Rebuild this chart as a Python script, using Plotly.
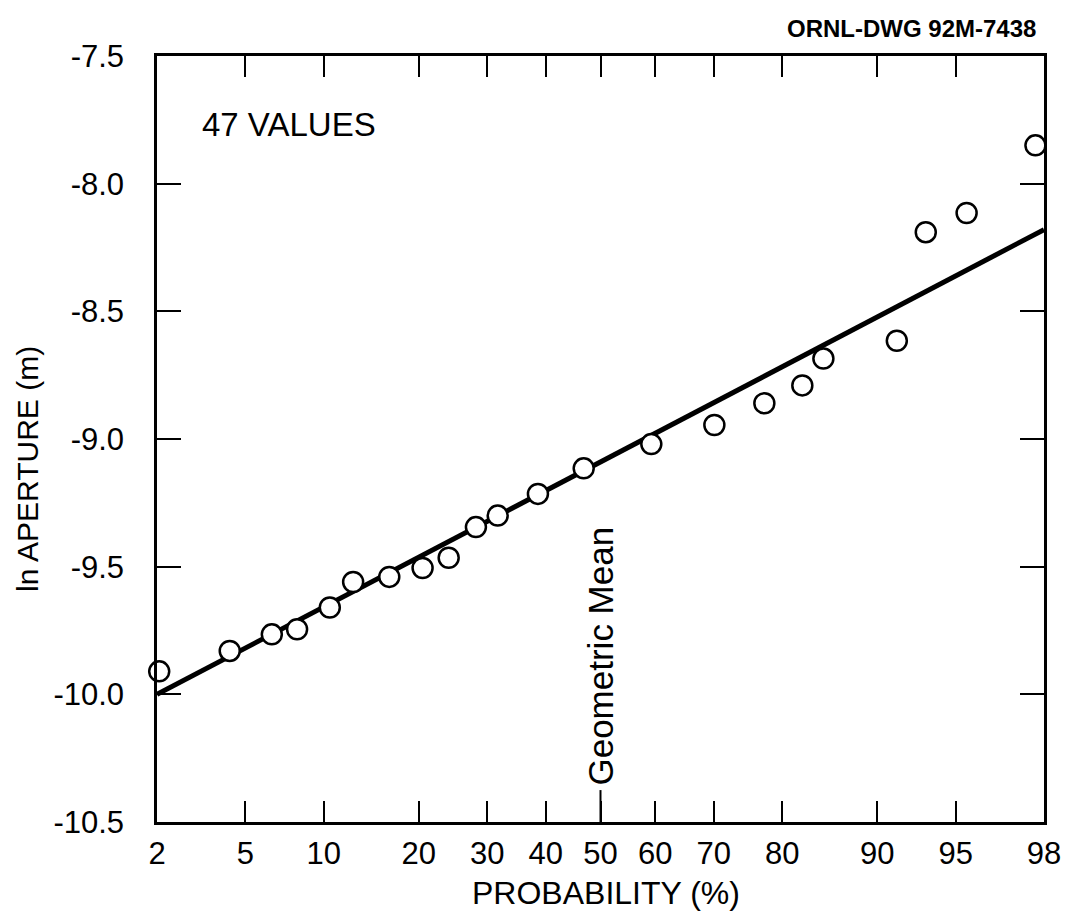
from statistics import NormalDist
import plotly.graph_objects as go

# ---------------- data ----------------
prob_pct = [2.05, 4.3, 6.4, 8.0, 10.5, 12.6, 16.4, 20.5, 24.1, 28.2, 31.7,
            38.6, 46.9, 59.3, 70.1, 77.6, 82.5, 84.9, 91.5, 93.4, 95.5, 97.8]
ln_aperture = [-9.91, -9.83, -9.765, -9.745, -9.66, -9.56, -9.54, -9.505, -9.465,
               -9.345, -9.30, -9.215, -9.115, -9.02, -8.945, -8.86, -8.79, -8.685,
               -8.615, -8.19, -8.115, -7.85]

fit_prob = [2, 98]
fit_val = [-10.0, -8.18]

x_tick_pct = [2, 5, 10, 20, 30, 40, 50, 60, 70, 80, 90, 95, 98]
x_tick_text = ["2", "5", "10", "20", "30", "40", "50", "60", "70", "80", "90", "95", "98"]
y_tick_vals = [-10.5, -10.0, -9.5, -9.0, -8.5, -8.0, -7.5]
y_tick_text = ["-10.5", "-10.0", "-9.5", "-9.0", "-8.5", "-8.0", "-7.5"]
y_range = [-10.5, -7.5]

geo_mean_pct = 50
geo_label_y = -9.85
geo_line_y = [-10.375, -10.5]

nd = NormalDist()
def probit(p):
    return nd.inv_cdf(p / 100.0)

FONT = "Liberation Sans, Arial, Helvetica, sans-serif"

# plot area in pixels
W, H = 1072, 924
L, R, T, B = 157, 1044, 56, 822

def xp(px):
    return (px - L) / (R - L)

def yp(py):
    return (B - py) / (B - T)

fig = go.Figure()

fig.add_trace(go.Scatter(
    x=[probit(p) for p in fit_prob], y=fit_val, mode="lines",
    line=dict(color="black", width=5), showlegend=False, hoverinfo="skip"))

fig.add_trace(go.Scatter(
    x=[probit(p) for p in prob_pct], y=ln_aperture, mode="markers",
    marker=dict(symbol="circle", size=20, color="white",
                line=dict(color="black", width=2.5)),
    cliponaxis=False, showlegend=False))

gx = probit(geo_mean_pct)
fig.add_shape(type="line", x0=gx, x1=gx, y0=geo_line_y[0], y1=geo_line_y[1],
              xref="x", yref="y", line=dict(color="black", width=2))

fig.add_annotation(x=gx, y=geo_label_y, xref="x", yref="y", text="Geometric Mean",
                   textangle=-90, showarrow=False,
                   font=dict(family=FONT, size=35, color="black"))

fig.add_annotation(x=xp(200), y=yp(124), xref="paper", yref="paper", text="47 VALUES",
                   xanchor="left", yanchor="middle", showarrow=False,
                   font=dict(family=FONT, size=33, color="black"))

fig.add_annotation(x=xp(1038), y=yp(28), xref="paper", yref="paper",
                   text="<b>ORNL-DWG 92M-7438</b>",
                   xanchor="right", yanchor="middle", showarrow=False,
                   font=dict(family=FONT, size=24, color="black"))

fig.add_annotation(x=xp(27), y=yp(469), xref="paper", yref="paper",
                   text="ln APERTURE (m)", textangle=-90,
                   xanchor="center", yanchor="middle", showarrow=False,
                   font=dict(family=FONT, size=30, color="black"))

fig.add_annotation(x=xp(606), y=yp(893), xref="paper", yref="paper",
                   text="PROBABILITY (%)",
                   xanchor="center", yanchor="middle", showarrow=False,
                   font=dict(family=FONT, size=32, color="black"))

fig.update_xaxes(
    range=[probit(2), probit(98)],
    tickvals=[probit(p) for p in x_tick_pct], ticktext=x_tick_text,
    ticks="inside", ticklen=21, tickwidth=2, tickcolor="black",
    showline=True, linecolor="black", linewidth=2.5, mirror="ticks",
    showgrid=False, zeroline=False,
    tickfont=dict(family=FONT, size=31, color="black"),
    ticklabelstandoff=2,
)
fig.update_yaxes(
    range=y_range,
    tickvals=y_tick_vals, ticktext=y_tick_text,
    ticks="inside", ticklen=24, tickwidth=2, tickcolor="black",
    showline=True, linecolor="black", linewidth=2.5, mirror="ticks",
    showgrid=False, zeroline=False,
    tickfont=dict(family=FONT, size=31, color="black"),
    ticklabelstandoff=24,
)

fig.update_layout(
    width=W, height=H,
    margin=dict(l=L, r=W - R, t=T, b=H - B, pad=0),
    plot_bgcolor="white", paper_bgcolor="white",
    showlegend=False,
)

fig.write_html("out.html")
